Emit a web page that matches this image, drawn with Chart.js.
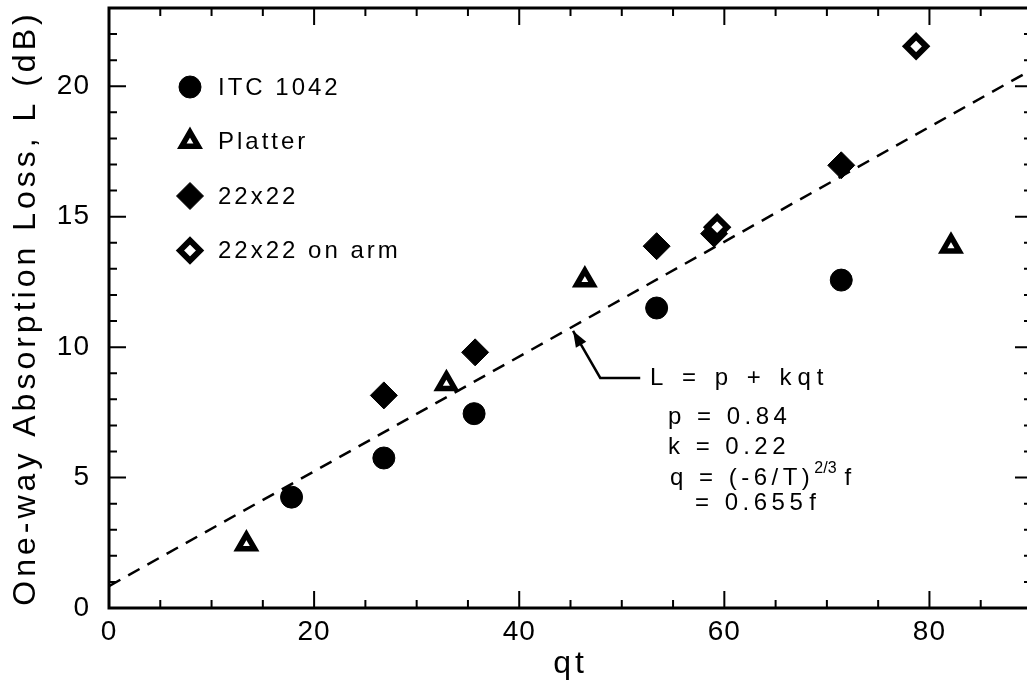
<!DOCTYPE html>
<html><head><meta charset="utf-8">
<script src="https://cdn.jsdelivr.net/npm/chart.js@4/dist/chart.umd.min.js"></script>
<style>
html,body{margin:0;padding:0;background:#fff;overflow:hidden;width:1027px;height:683px}
#wrap{width:1040px;height:683px;position:relative}
</style>
</head><body><div id="wrap"><canvas id="c" width="1040" height="683"></canvas></div>
<script>
// ---- data ----
const itcX      = [17.8, 26.8, 35.6, 53.4, 71.4];
const itcY      = [4.25, 5.75, 7.45, 11.5, 12.57];
const platterX  = [13.4, 32.9, 46.4, 82.1];
const platterY  = [2.45, 8.6, 12.57, 13.87];
const d22X      = [26.8, 35.7, 53.4, 59.0, 71.4];
const d22Y      = [8.15, 9.8, 13.87, 14.35, 16.97];
const armX      = [59.3, 78.7];
const armY      = [14.6, 21.53];
const fitX      = [0, 90];
const fitY      = [0.84, 20.64];
const xTickLabels = [0, 20, 40, 60, 80];
const yTickLabels = [0, 5, 10, 15, 20];
const xMinorTicks = [0,5,10,15,20,25,30,35,40,45,50,55,60,65,70,75,80,85,90];
const yMinorTicks = [0,1,2,3,4,5,6,7,8,9,10,11,12,13,14,15,16,17,18,19,20,21,22,23];
const seriesNames = ['ITC 1042', 'Platter', '22x22', '22x22 on arm'];
const fitLabel = 'L = p + kqt';
const fitNotes = ['p = 0.84', 'k = 0.22'];

const pts = (xs, ys) => xs.map((x, i) => ({x, y: ys[i]}));
const FONT = "'Liberation Sans', Arial, sans-serif";
Chart.defaults.font.family = FONT;
Chart.defaults.color = '#000';

const styles = [
  {pointStyle:'circle',   radius:11,  borderWidth:1,   backgroundColor:'#000', borderColor:'#000'},
  {pointStyle:'triangle', radius:9.5, borderWidth:5.5, backgroundColor:'#fff', borderColor:'#000'},
  {pointStyle:'rectRot',  radius:13.5,borderWidth:1,   backgroundColor:'#000', borderColor:'#000'},
  {pointStyle:'rectRot',  radius:10,  borderWidth:6,   backgroundColor:'#fff', borderColor:'#000'}
];
function ds(label, data, st){
  return {label, data, showLine:false, pointStyle:st.pointStyle, pointRadius:st.radius,
    pointBorderWidth:st.borderWidth, pointBackgroundColor:st.backgroundColor,
    pointBorderColor:st.borderColor, pointHoverRadius:st.radius};
}

function withSpacing(ctx, sp, fn){ ctx.save(); ctx.letterSpacing = sp; fn(); ctx.restore(); }

const framePlugin = {
  id:'frame',
  beforeDraw(chart){
    ['x','y'].forEach(id=>{
      const s = chart.scales[id];
      if (!s._wrapped){
        const ot = s.drawTitle.bind(s);
        s.drawTitle = function(){ withSpacing(chart.ctx, '4px', ot); };
        const ol = s.drawLabels.bind(s);
        s.drawLabels = function(a){ withSpacing(chart.ctx, '1px', ()=>ol(a)); };
        s._wrapped = true;
      }
    });
  },
  afterDraw(chart){
    const {ctx, chartArea:a, scales:{x, y}} = chart;
    ctx.save();
    ctx.strokeStyle = '#000';
    ctx.lineWidth = 3;
    ctx.strokeRect(a.left, a.top, a.right - a.left, a.bottom - a.top);
    ctx.lineWidth = 2;
    ctx.beginPath();
    xMinorTicks.forEach(v=>{
      const px = x.getPixelForValue(v);
      const len = v % 20 === 0 ? 17 : 8;
      ctx.moveTo(px, a.bottom); ctx.lineTo(px, a.bottom - len);
      ctx.moveTo(px, a.top);    ctx.lineTo(px, a.top + len);
    });
    yMinorTicks.forEach(v=>{
      const py = y.getPixelForValue(v);
      const len = v % 5 === 0 ? 17 : 8;
      ctx.moveTo(a.left, py);  ctx.lineTo(a.left + len, py);
      ctx.moveTo(a.right, py); ctx.lineTo(a.right - len, py);
    });
    ctx.stroke();
    ctx.restore();
  }
};

const legendPlugin = {
  id:'innerLegend',
  afterDatasetsDraw(chart){
    const {ctx, chartArea:a} = chart;
    const order = [0,1,2,3];
    ctx.save();
    order.forEach((k, i)=>{
      const st = styles[k];
      const cx = a.left + 81, cy = a.top + 79 + i * 54.5;
      ctx.fillStyle = st.backgroundColor; ctx.strokeStyle = st.borderColor; ctx.lineWidth = st.borderWidth;
      Chart.helpers.drawPoint(ctx, {pointStyle:st.pointStyle, radius:st.radius, borderWidth:st.borderWidth, rotation:0}, cx, cy);
      ctx.fillStyle = '#000';
      ctx.font = '24px ' + FONT;
      ctx.textBaseline = 'middle';
      ctx.textAlign = 'left';
      ctx.letterSpacing = '3px';
      ctx.fillText(seriesNames[k], a.left + 109, cy + 1);
      ctx.letterSpacing = '0px';
    });
    ctx.restore();
  }
};

const annotPlugin = {
  id:'fitAnnot',
  afterDatasetsDraw(chart){
    const {ctx, scales:{x, y}} = chart;
    const tip = [x.getPixelForValue(45.25), y.getPixelForValue(10.62)];
    const elb = [x.getPixelForValue(47.9),  y.getPixelForValue(8.82)];
    const end = [x.getPixelForValue(51.8),  y.getPixelForValue(8.82)];
    const tx = x.getPixelForValue(52.75), ty = y.getPixelForValue(8.82);
    ctx.save();
    ctx.strokeStyle = '#000'; ctx.fillStyle = '#000'; ctx.lineWidth = 2.5;
    ctx.beginPath(); ctx.moveTo(end[0], end[1]); ctx.lineTo(elb[0], elb[1]); ctx.lineTo(tip[0], tip[1]); ctx.stroke();
    const ang = Math.atan2(tip[1]-elb[1], tip[0]-elb[0]);
    const L = 16, W = 6;
    const bx = tip[0] - L*Math.cos(ang), by = tip[1] - L*Math.sin(ang);
    ctx.beginPath();
    ctx.moveTo(tip[0], tip[1]);
    ctx.lineTo(bx + W*Math.sin(ang), by - W*Math.cos(ang));
    ctx.lineTo(bx - W*Math.sin(ang), by + W*Math.cos(ang));
    ctx.closePath(); ctx.fill();

    ctx.textBaseline = 'middle'; ctx.textAlign = 'left';
    ctx.font = '24px ' + FONT;
    ctx.letterSpacing = '6px';
    ctx.fillText(fitLabel, tx, ty);
    ctx.letterSpacing = '4.5px';
    ctx.fillText(fitNotes[0], tx + 18, ty + 39);
    ctx.fillText(fitNotes[1], tx + 18, ty + 69);
    let qx = tx + 20, qy = ty + 100;
    const part1 = 'q = (-6/T)';
    ctx.fillText(part1, qx, qy);
    qx += ctx.measureText(part1).width;
    ctx.font = '16px ' + FONT; ctx.letterSpacing = '0px';
    ctx.fillText('2/3', qx, qy - 9);
    qx += ctx.measureText('2/3').width + 8;
    ctx.font = '24px ' + FONT;
    ctx.fillText('f', qx, qy);
    ctx.letterSpacing = '4.5px';
    ctx.fillText('= 0.655', tx + 45, ty + 125);
    const w2 = ctx.measureText('= 0.655').width;
    ctx.letterSpacing = '0px';
    ctx.fillText('f', tx + 45 + w2 + 2, ty + 125);
    ctx.restore();
  }
};

new Chart(document.getElementById('c'), {
  type:'scatter',
  data:{datasets:[
    ds(seriesNames[3], pts(armX, armY), styles[3]),
    ds(seriesNames[2], pts(d22X, d22Y), styles[2]),
    ds(seriesNames[1], pts(platterX, platterY), styles[1]),
    ds(seriesNames[0], pts(itcX, itcY), styles[0]),
    {label:fitLabel, data:pts(fitX, fitY), showLine:true, pointRadius:0, borderColor:'#000',
     borderWidth:2.5, borderDash:[13,9], fill:false}
  ]},
  options:{
    responsive:false, animation:false,
    layout:{autoPadding:false, padding:{left:0, top:8, right:8, bottom:0}},
    plugins:{legend:{display:false}, tooltip:{enabled:false}},
    scales:{
      x:{type:'linear', position:'bottom', min:0, max:90,
        afterFit(s){ s.height = 75; s.paddingLeft = 0; s.paddingRight = 0; },
        afterBuildTicks(s){ s.ticks = xTickLabels.map(v=>({value:v})); },
        ticks:{font:{size:28}, color:'#000', padding:7, maxRotation:0, autoSkip:false},
        grid:{display:false, drawTicks:false}, border:{display:false},
        title:{display:true, text:'qt', font:{size:32}, color:'#000', padding:{top:0, bottom:0}}},
      y:{type:'linear', position:'left', min:0, max:23,
        afterFit(s){ s.width = 109; s.paddingTop = 0; s.paddingBottom = 0; },
        afterBuildTicks(s){ s.ticks = yTickLabels.map(v=>({value:v})); },
        ticks:{font:{size:28}, color:'#000', padding:19, autoSkip:false},
        grid:{display:false, drawTicks:false}, border:{display:false},
        title:{display:true, text:'One-way Absorption Loss, L (dB)', font:{size:32}, color:'#000', padding:{top:7, bottom:0}}}
    }
  },
  plugins:[framePlugin, legendPlugin, annotPlugin]
});
</script>
</body></html>
